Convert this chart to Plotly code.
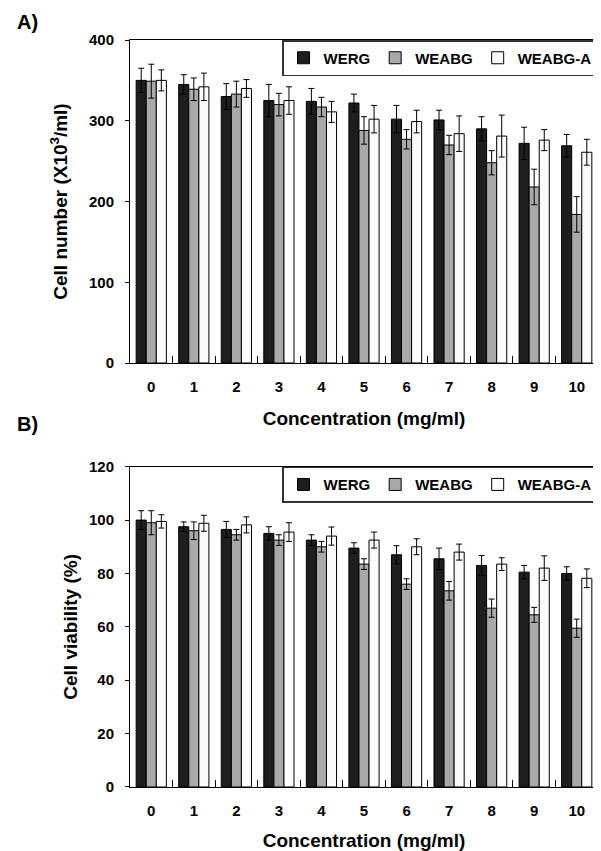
import plotly.graph_objects as go

conc = [str(i) for i in range(11)]
series_names = ["WERG", "WEABG", "WEABG-A"]

# Panel A: cell number (x10^3/ml)
werg_n = [350, 345, 330, 325, 324, 322, 302, 301, 290, 272, 269]
werg_n_err = [15, 12, 16, 20, 16, 11, 17, 12, 15, 20, 14]
weabg_n = [349, 339, 333, 320, 317, 288, 277, 270, 248, 218, 184]
weabg_n_err = [21, 14, 16, 14, 12, 17, 12, 12, 15, 22, 22]
weabga_n = [350, 342, 340, 325, 311, 302, 299, 284, 281, 276, 261]
weabga_n_err = [13, 17, 11, 17, 13, 17, 14, 22, 26, 13, 16]

# Panel B: cell viability (%)
werg_v = [100, 97.5, 96.5, 95, 92.5, 89.5, 87, 85.5, 83, 80.5, 80]
werg_v_err = [3.5, 1.8, 3, 2.5, 2, 2, 3.4, 4, 3.7, 2.5, 2.5]
weabg_v = [99, 96, 94.5, 92.5, 90, 83.5, 76, 73.5, 67, 64.5, 59.5]
weabg_v_err = [4.5, 3.3, 2, 2, 2, 2, 2, 3.5, 3.4, 2.8, 3.4]
weabga_v = [99.5, 98.8, 98.2, 95.5, 94, 92.5, 90, 88, 83.5, 82, 78.2]
weabga_v_err = [2.5, 3, 3, 3.5, 3.4, 3, 3, 3, 2.4, 4.6, 3.5]

colors = ["#1e1e1e", "#a9a9a9", "#fbfbfb"]
FONT = "Liberation Sans, Arial, sans-serif"

panelA = [(werg_n, werg_n_err), (weabg_n, weabg_n_err), (weabga_n, weabga_n_err)]
panelB = [(werg_v, werg_v_err), (weabg_v, weabg_v_err), (weabga_v, weabga_v_err)]

fig = go.Figure()
for i, (vals, errs) in enumerate(panelA):
    fig.add_trace(go.Bar(
        x=conc, y=vals, name=series_names[i], xaxis="x", yaxis="y", legend="legend",
        marker=dict(color=colors[i], line=dict(color="black", width=1)),
        error_y=dict(type="data", array=errs, visible=True, color="black", thickness=1, width=3),
    ))
for i, (vals, errs) in enumerate(panelB):
    fig.add_trace(go.Bar(
        x=conc, y=vals, name=series_names[i], xaxis="x2", yaxis="y2", legend="legend2",
        marker=dict(color=colors[i], line=dict(color="black", width=1)),
        error_y=dict(type="data", array=errs, visible=True, color="black", thickness=1, width=3),
    ))

tickfont = dict(family=FONT, size=15, color="black", weight="bold")
titlefont = dict(family=FONT, size=19, color="black", weight="bold")

xcommon = dict(type="category", showline=True, linecolor="black", linewidth=1, mirror=True,
               ticks="inside", tickson="boundaries", ticklen=7, tickcolor="black",
               tickfont=tickfont, ticklabelstandoff=10, showgrid=False, zeroline=False)
ycommon = dict(showline=True, linecolor="black", linewidth=1, ticks="outside", ticklen=4,
               tickcolor="black", tickfont=tickfont, ticklabelstandoff=8,
               showgrid=False, zeroline=False)

top_dom = [0.5676, 1.0]
bot_dom = [0.0, 0.4288]

legend_common = dict(x=1, xanchor="right", yanchor="top", orientation="h",
                     bordercolor="#333333", borderwidth=1.5, bgcolor="white",
                     font=dict(family=FONT, size=15, color="black", weight="bold"),
                     itemwidth=30, tracegroupgap=0)

fig.update_layout(
    width=593, height=843,
    margin=dict(l=122, r=3, t=32, b=64),
    paper_bgcolor="white", plot_bgcolor="white",
    barmode="group", bargap=0.29, bargroupgap=0,
    font=dict(family=FONT, color="black"),
    xaxis=dict(**xcommon, anchor="y", domain=[0, 1],
               title=dict(text="Concentration (mg/ml)", font=titlefont, standoff=17)),
    yaxis=dict(**ycommon, anchor="x", domain=top_dom, range=[0, 400], dtick=100,
               title=dict(text="Cell number (X10<sup>3</sup>/ml)", font=titlefont, standoff=16)),
    xaxis2=dict(**xcommon, anchor="y2", domain=[0, 1],
                title=dict(text="Concentration (mg/ml)", font=titlefont, standoff=17)),
    yaxis2=dict(**ycommon, anchor="x2", domain=bot_dom, range=[0, 120], dtick=20,
                title=dict(text="Cell viability (%)", font=titlefont, standoff=6)),
    legend=dict(**legend_common, y=1),
    legend2=dict(**legend_common, y=bot_dom[1]),
    showlegend=True,
    shapes=[
        dict(type="line", xref="paper", yref="paper", x0=1, x1=1, y0=top_dom[0], y1=top_dom[1],
             line=dict(color="#8a8a8a", width=1.5)),
        dict(type="line", xref="paper", yref="paper", x0=1, x1=1, y0=bot_dom[0], y1=bot_dom[1],
             line=dict(color="#8a8a8a", width=1.5)),
    ],
    annotations=[
        dict(text="A)", xref="paper", yref="paper", x=-0.22, y=1.024, xanchor="center",
             yanchor="middle", showarrow=False, font=dict(family=FONT, size=20, color="black", weight="bold")),
        dict(text="B)", xref="paper", yref="paper", x=-0.22, y=0.486, xanchor="center",
             yanchor="middle", showarrow=False, font=dict(family=FONT, size=20, color="black", weight="bold")),
    ],
)
fig.update_yaxes(mirror=False)

fig.write_html("out.html")
